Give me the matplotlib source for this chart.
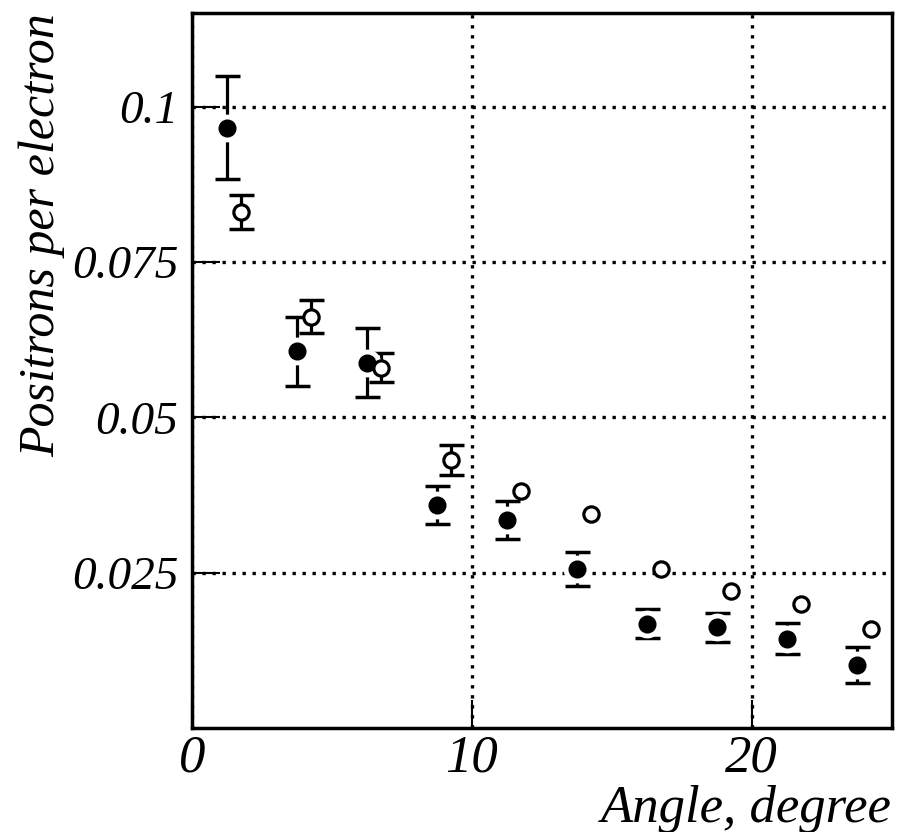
import matplotlib
matplotlib.use("Agg")
from matplotlib import pyplot as plt

# filled circles
angle_a = [1.25, 3.75, 6.25, 8.75, 11.25, 13.75, 16.25, 18.75, 21.25, 23.75]
rate_a = [0.0966, 0.0606, 0.0588, 0.0359, 0.0335, 0.0256, 0.0168, 0.0162, 0.0144, 0.0101]
err_a = [0.0083, 0.0056, 0.0056, 0.0030, 0.0031, 0.0028, 0.0023, 0.0023, 0.0025, 0.0029]

# open circles (last six have no visible error bar)
angle_b = [1.75, 4.25, 6.75, 9.25, 11.75, 14.25, 16.75, 19.25, 21.75, 24.25]
rate_b = [0.0830, 0.0662, 0.0580, 0.0431, 0.0381, 0.0345, 0.0256, 0.0221, 0.0200, 0.0159]
err_b = [0.0027, 0.0026, 0.0023, 0.0024, 0, 0, 0, 0, 0, 0]

xticks = [0, 10, 20]
yticks = [0.025, 0.05, 0.075, 0.1]
ytick_labels = ["0.025", "0.05", "0.075", "0.1"]

plt.rcParams["font.family"] = "serif"
plt.rcParams["font.serif"] = ["Liberation Serif", "DejaVu Serif"]
plt.rcParams["font.style"] = "italic"

fig = plt.figure(figsize=(8.97, 8.32), dpi=100)
ax = fig.add_axes([0.214, 0.125, 0.78, 0.859])

ax.errorbar(angle_a, rate_a, yerr=err_a, fmt="none", ecolor="black",
            elinewidth=2.3, capsize=9, capthick=2.5, zorder=3)
ax.plot(angle_a, rate_a, "o", ms=19, mfc="white", mec="white", zorder=4)
ax.plot(angle_a, rate_a, "o", ms=11.5, mfc="black", mec="black", mew=1.5, zorder=5)

idx = [i for i, e in enumerate(err_b) if e > 0]
ax.errorbar([angle_b[i] for i in idx], [rate_b[i] for i in idx],
            yerr=[err_b[i] for i in idx], fmt="none", ecolor="black",
            elinewidth=2.3, capsize=9, capthick=2.5, zorder=3)
ax.plot(angle_b, rate_b, "o", ms=11, mfc="white", mec="black", mew=2.3, zorder=5)

ax.set_xlim(0, 25)
ax.set_ylim(0, 0.115)
ax.set_xticks(xticks)
ax.set_yticks(yticks)
ax.set_yticklabels(ytick_labels)
ax.tick_params(direction="in", length=20, width=1.5, top=False, right=False)
ax.tick_params(axis="x", pad=5, labelsize=38)
ax.tick_params(axis="y", pad=10, labelsize=34)

ax.grid(True, color="black", linestyle=(0, (1, 2)), linewidth=2.4)
ax.set_axisbelow(True)
for s in ax.spines.values():
    s.set_linewidth(2.5)

ax.set_xlabel("Angle, degree", fontsize=38, ha="right", va="center")
ax.xaxis.set_label_coords(1.0, -0.113)
ax.set_ylabel("Positrons per electron", fontsize=36, va="center")
ax.yaxis.set_label_coords(-0.215, 0.69)

fig.savefig("out.png", dpi=100)
